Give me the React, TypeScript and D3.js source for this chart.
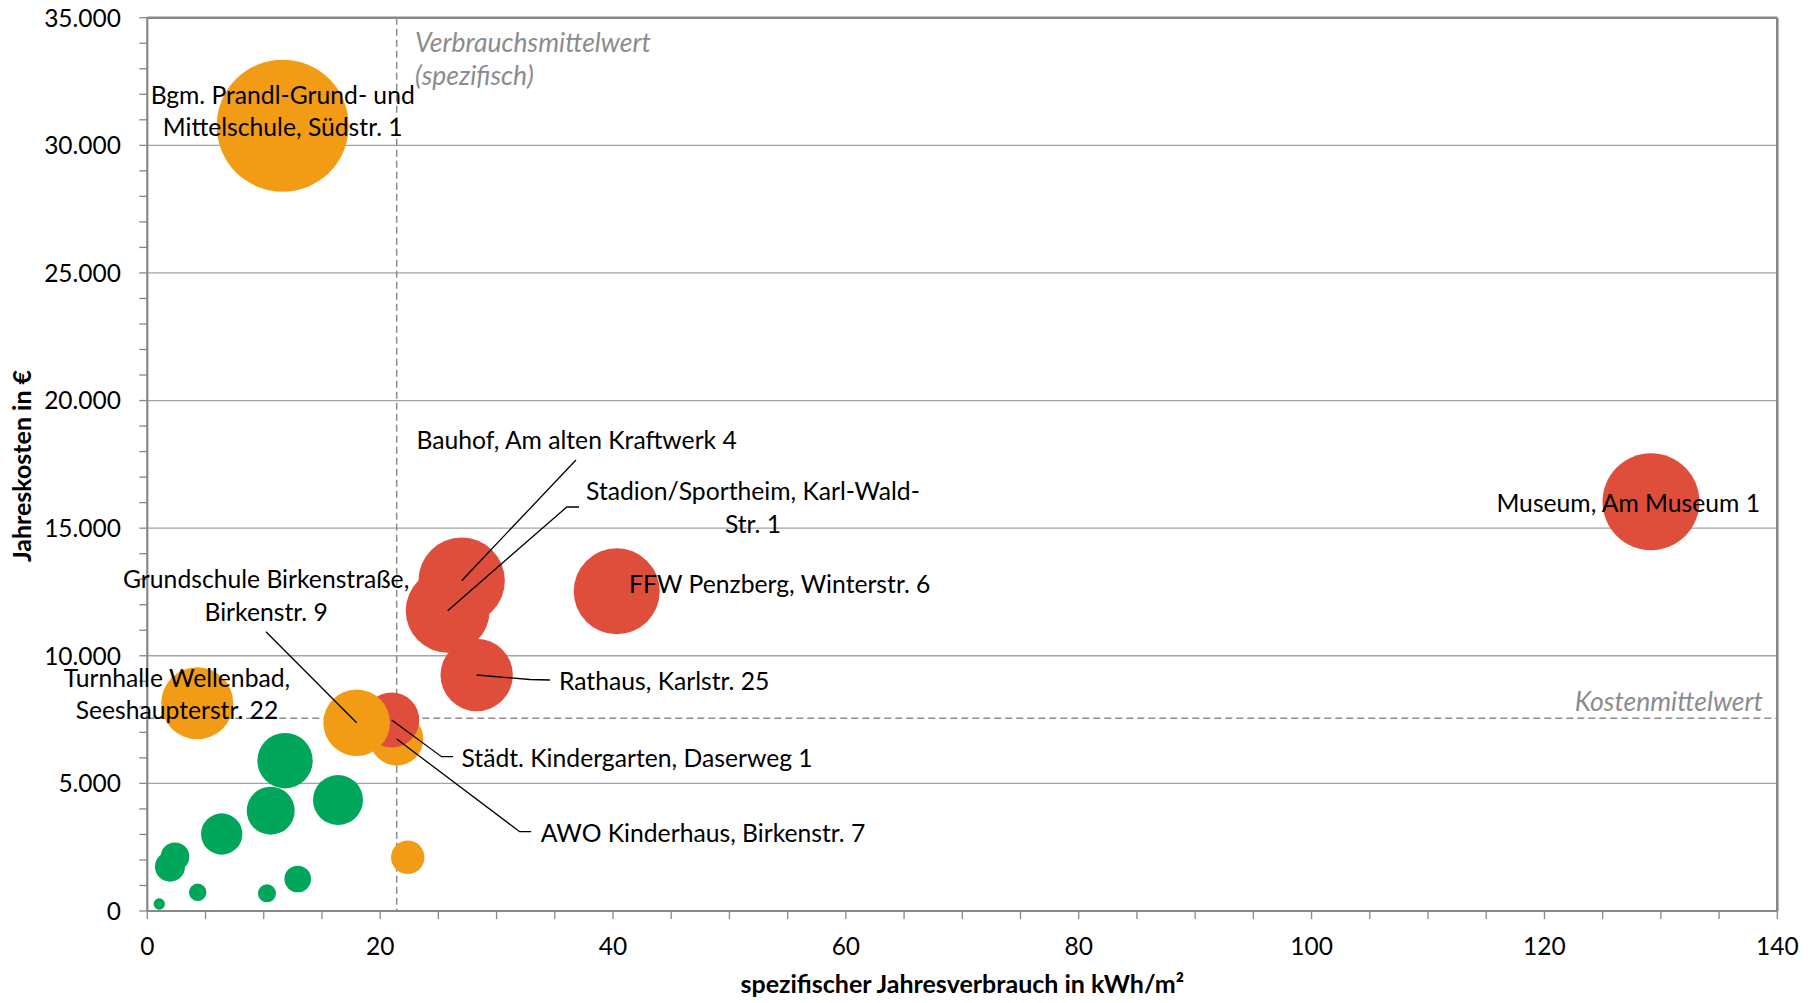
import React from "react";
import * as d3 from "d3";

// ---------- data ----------
const gebaeude: string[] = [
  "", "", "", "", "", "", "", "", "", "",
  "",
  "AWO Kinderhaus, Birkenstr. 7",
  "Städt. Kindergarten, Daserweg 1",
  "Grundschule Birkenstraße, Birkenstr. 9",
  "Turnhalle Wellenbad, Seeshaupterstr. 22",
  "Rathaus, Karlstr. 25",
  "Bauhof, Am alten Kraftwerk 4",
  "Stadion/Sportheim, Karl-Wald-Str. 1",
  "FFW Penzberg, Winterstr. 6",
  "Museum, Am Museum 1",
  "Bgm. Prandl-Grund- und Mittelschule, Südstr. 1",
];
// spezifischer Jahresverbrauch in kWh/m²
const verbrauch: number[] = [1.03, 4.33, 10.28, 12.92, 1.95, 2.38, 6.39, 10.6, 11.83, 16.38, 22.37, 21.42, 20.99, 17.98, 4.29, 28.29, 27.0, 25.8, 40.32, 129.15, 11.63];
// Jahreskosten in €
const kosten: number[] = [274, 733, 694, 1254, 1736, 2127, 3017, 3930, 5889, 4349, 2104, 6739, 7483, 7378, 8138, 9247, 12941, 11766, 12526, 16037, 30768];
// Blasengröße (Jahresverbrauch, relative Einheiten)
const groesse: number[] = [3.2, 7.6, 8.1, 17.7, 22.5, 20.4, 42.8, 57.6, 76.7, 62.5, 28, 71, 76, 111, 130, 131, 187, 176, 185, 235, 436];
const gruppe: string[] = ["gruen", "gruen", "gruen", "gruen", "gruen", "gruen", "gruen", "gruen", "gruen", "gruen", "orange", "orange", "rot", "orange", "orange", "rot", "rot", "rot", "rot", "rot", "orange"];

const xTicks: number[] = [0, 20, 40, 60, 80, 100, 120, 140];
const yTicks: number[] = [0, 5000, 10000, 15000, 20000, 25000, 30000, 35000];
const verbrauchsMittel = 21.42;
const kostenMittel = 7548;

// ---------- styles / layout ----------
const W = 1813, H = 1003;
const plot = { left: 147.3, right: 1777.3, top: 17.7, bottom: 911 };
const colors: Record<string, string> = { gruen: "#00A65A", orange: "#F29C16", rot: "#DE4E3B" };
const FONT = "Lato, 'Open Sans', sans-serif";
const axisColor = "#878787";
const LINE = 32.7;
const LABEL_SIZE = 24.7;

type LabelLayout = { lines: string[]; anchor: "start" | "middle" | "end"; dx: number; dy: number; leader?: [number, number][] };
const labelLayout: Record<string, LabelLayout> = {
  "Bgm. Prandl-Grund- und Mittelschule, Südstr. 1": { lines: ["Bgm. Prandl-Grund- und", "Mittelschule, Südstr. 1"], anchor: "middle", dx: 0, dy: -22.2 },
  "Museum, Am Museum 1": { lines: ["Museum, Am Museum 1"], anchor: "end", dx: 109, dy: 10 },
  "Bauhof, Am alten Kraftwerk 4": { lines: ["Bauhof, Am alten Kraftwerk 4"], anchor: "middle", dx: 115, dy: -131.4, leader: [[114.3, -120.7], [0, 0]] },
  "Stadion/Sportheim, Karl-Wald-Str. 1": { lines: ["Stadion/Sportheim, Karl-Wald-", "Str. 1"], anchor: "middle", dx: 305.3, dy: -110.7, leader: [[131.3, -103.7], [119.1, -103.7], [0, 0]] },
  "FFW Penzberg, Winterstr. 6": { lines: ["FFW Penzberg, Winterstr. 6"], anchor: "start", dx: 12.3, dy: 1.7 },
  "Rathaus, Karlstr. 25": { lines: ["Rathaus, Karlstr. 25"], anchor: "start", dx: 82.3, dy: 15, leader: [[0, 0], [53.3, 4.5], [73.3, 5]] },
  "Turnhalle Wellenbad, Seeshaupterstr. 22": { lines: ["Turnhalle Wellenbad,", "Seeshaupterstr. 22"], anchor: "middle", dx: -20.3, dy: -16.6 },
  "Grundschule Birkenstraße, Birkenstr. 9": { lines: ["Grundschule Birkenstraße,", "Birkenstr. 9"], anchor: "middle", dx: -90.5, dy: -134.4, leader: [[-90.7, -91], [0, 0]] },
  "Städt. Kindergarten, Daserweg 1": { lines: ["Städt. Kindergarten, Daserweg 1"], anchor: "start", dx: 69.8, dy: 46.7, leader: [[0, 0], [49.8, 36.7], [61.3, 36.7]] },
  "AWO Kinderhaus, Birkenstr. 7": { lines: ["AWO Kinderhaus, Birkenstr. 7"], anchor: "start", dx: 144, dy: 102.7, leader: [[0, 0], [123, 92.7], [134.5, 92.7]] },
};

const deLocale = d3.formatLocale({ decimal: ",", thousands: ".", grouping: [3], currency: ["", " €"] });
const fmtY = deLocale.format(",d");

export default function App() {
  const x = d3.scaleLinear().domain([0, 140]).range([plot.left, plot.right]);
  const y = d3.scaleLinear().domain([0, 35000]).range([plot.bottom, plot.top]);
  const r = d3.scaleSqrt().domain([0, 436]).range([0, 66]);
  const xMinor = d3.range(0, 141, 5);
  const yMinor = d3.range(0, 35001, 1000);
  const line = d3.line();

  const points = gebaeude.map((name, i) => ({ name, cx: x(verbrauch[i]), cy: y(kosten[i]), r: r(groesse[i]), color: colors[gruppe[i]] }));

  return (
    <svg width={W} height={H} style={{ position: "absolute", left: 0, top: 0, background: "#fff" }} fontFamily={FONT}>
      <rect x={0} y={0} width={W} height={H} fill="#fff" />
      {/* gridlines */}
      {yTicks.slice(1, -1).map((t) => (
        <line key={"g" + t} x1={plot.left} x2={plot.right} y1={y(t)} y2={y(t)} stroke="#a3a3a3" strokeWidth={1.3} />
      ))}
      {/* minor ticks */}
      {yMinor.map((t) => (
        <line key={"yt" + t} x1={plot.left - 8} x2={plot.left} y1={y(t)} y2={y(t)} stroke={axisColor} strokeWidth={1.3} />
      ))}
      {xMinor.map((t) => (
        <line key={"xt" + t} x1={x(t)} x2={x(t)} y1={plot.bottom} y2={plot.bottom + 8} stroke={axisColor} strokeWidth={1.3} />
      ))}
      {/* mean lines */}
      <line x1={x(verbrauchsMittel)} x2={x(verbrauchsMittel)} y1={plot.top} y2={plot.bottom} stroke="#8c8c8c" strokeWidth={1.5} strokeDasharray="7,4" />
      <line x1={plot.left} x2={plot.right} y1={y(kostenMittel)} y2={y(kostenMittel)} stroke="#8c8c8c" strokeWidth={1.5} strokeDasharray="7,4" />
      {/* plot frame */}
      <line x1={plot.left} x2={plot.right} y1={plot.top} y2={plot.top} stroke={axisColor} strokeWidth={2.6} />
      <line x1={plot.right} x2={plot.right} y1={plot.top} y2={plot.bottom} stroke={axisColor} strokeWidth={2.6} />
      <line x1={plot.left} x2={plot.right} y1={plot.bottom} y2={plot.bottom} stroke={axisColor} strokeWidth={2.2} />
      <line x1={plot.left} x2={plot.left} y1={plot.top} y2={plot.bottom} stroke={axisColor} strokeWidth={2.2} />
      {/* bubbles */}
      {points.map((p, i) => (
        <circle key={"b" + i} cx={p.cx} cy={p.cy} r={p.r} fill={p.color} />
      ))}
      {/* annotations */}
      <text x={415} y={51.7} fontSize={26.5} fontStyle="italic" fill="#8c8c8c">Verbrauchsmittelwert</text>
      <text x={415} y={84.5} fontSize={26.5} fontStyle="italic" fill="#8c8c8c">(spezifisch)</text>
      <text x={1763} y={711} fontSize={26.5} fontStyle="italic" fill="#8c8c8c" textAnchor="end">Kostenmittelwert</text>
      {/* leader lines and labels */}
      {points.map((p, i) => {
        const L = labelLayout[p.name];
        if (!L) return null;
        return (
          <g key={"l" + i}>
            {L.leader && (
              <path d={line(L.leader.map(([dx, dy]) => [p.cx + dx, p.cy + dy] as [number, number])) || ""} fill="none" stroke="#000" strokeWidth={1.3} />
            )}
            {L.lines.map((t, j) => (
              <text key={j} x={p.cx + L.dx} y={p.cy + L.dy + j * LINE} fontSize={LABEL_SIZE} textAnchor={L.anchor} fill="#000">{t}</text>
            ))}
          </g>
        );
      })}
      {/* axis tick labels */}
      {yTicks.map((t) => (
        <text key={"yl" + t} x={121} y={y(t)} dy="0.36em" fontSize={24.5} textAnchor="end" fill="#000">{fmtY(t)}</text>
      ))}
      {xTicks.map((t) => (
        <text key={"xl" + t} x={x(t)} y={955} fontSize={24.5} textAnchor="middle" fill="#000">{t}</text>
      ))}
      {/* axis titles */}
      <text x={(plot.left + plot.right) / 2} y={993} fontSize={25} fontWeight="bold" textAnchor="middle" fill="#000">spezifischer Jahresverbrauch in kWh/m²</text>
      <text transform={`translate(31,466) rotate(-90)`} fontSize={25} fontWeight="bold" textAnchor="middle" fill="#000">Jahreskosten in €</text>
    </svg>
  );
}
